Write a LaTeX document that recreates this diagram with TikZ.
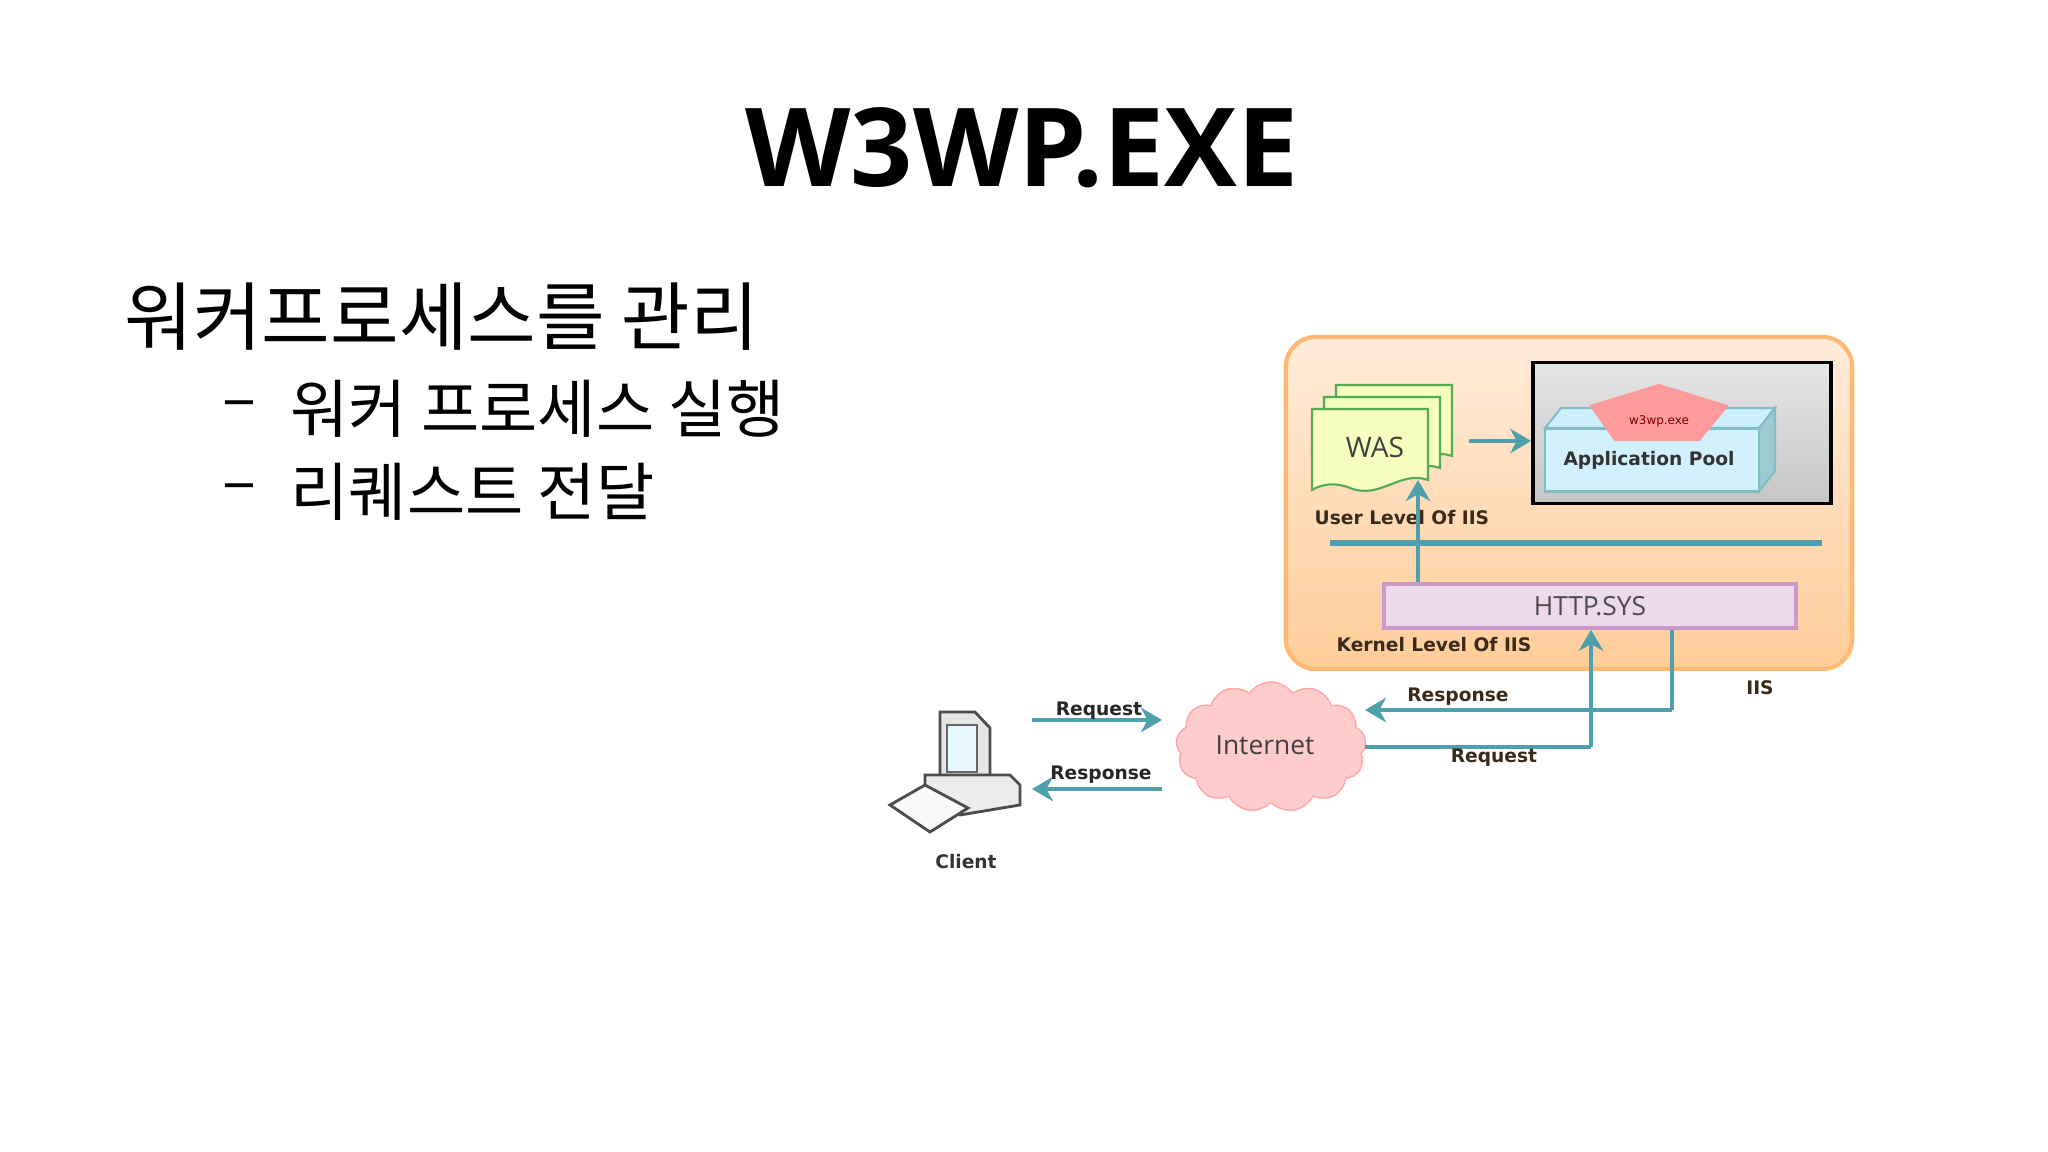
\documentclass[tikz,border=0pt]{standalone}
\usepackage{fontspec}
\setmainfont{Open Sans}
\newfontfamily\cjk{Noto Sans CJK KR}
\newfontfamily\verd{DejaVu Sans}
\usetikzlibrary{shapes.symbols,arrows.meta}
\definecolor{teal1}{HTML}{4F9FAD}
\definecolor{brownt}{HTML}{3A2A1A}
\tikzset{
  lbl/.style={font=\verd\bfseries\fontsize{5.3}{6}\selectfont, text=brownt, inner sep=0},
  tarrow/.style={draw=teal1, line width=1.3pt, -{Stealth[length=6pt,width=7pt]}},
  tline/.style={draw=teal1, line width=1.3pt},
}
\begin{document}
\begin{tikzpicture}[x=0.01cm,y=-0.01cm]
\useasboundingbox (0,0) rectangle (2048,1152);
\fill[white] (0,0) rectangle (2048,1152);
% text
\node (title) at (1022,148) {\fontsize{31}{34}\selectfont\bfseries W3WP.EXE};
\node[anchor=west,inner sep=0] (l1) at (124,317) {\cjk\fontsize{21.2}{24}\selectfont 워커프로세스를 관리};
\node[anchor=west,inner sep=0] (d1) at (222,411) {\cjk\fontsize{18}{22}\selectfont –};
\node[anchor=west,inner sep=0] (l2) at (290,409) {\cjk\fontsize{18}{22}\selectfont 워커 프로세스 실행};
\node[anchor=west,inner sep=0] (d2) at (222,494) {\cjk\fontsize{18}{22}\selectfont –};
\node[anchor=west,inner sep=0] (l3) at (290,492) {\cjk\fontsize{18}{22}\selectfont 리퀘스트 전달};
% IIS box
\node[draw=orange!55, line width=1.2pt, rounded corners=0.3cm, top color=orange!15, bottom color=orange!40, minimum width=5.66cm, minimum height=3.32cm, inner sep=0] (iis) at (1569,503) {};
\node[draw=black, line width=1pt, top color=gray!20, bottom color=gray!45, minimum width=2.98cm, minimum height=1.41cm, inner sep=0] (gray) at (1682,433) {};
% app pool 3D
\fill[cyan!20!white, draw=teal1!70, line width=0.6pt] (1545,428) -- (1561,408) -- (1775,408) -- (1759,428) -- cycle;
\fill[teal1!55, draw=teal1!70, line width=0.6pt] (1759,428) -- (1775,408) -- (1775,471) -- (1759,491) -- cycle;
\node[draw=teal1!70, fill=cyan!18!white, line width=0.6pt, minimum width=2.14cm, minimum height=0.63cm, inner sep=0] (pool) at (1652,460) {};
\node[lbl, text=black!80] (pooltxt) at (1649,460) {Application Pool};
\fill[red!25!pink!90, draw=red!40, line width=0.6pt] (1659,385) -- (1727,406) -- (1699,440) -- (1615,440) -- (1591,406) -- cycle;
\node[inner sep=0, font=\verd\fontsize{3.4}{4}\selectfont, text=red!50!black] (w3wp) at (1659,421) {w3wp.exe};
% WAS pages
\foreach \o in {24,12,0}{
  \fill[green!12!yellow!25!white, draw=green!35!gray, line width=0.6pt]
    (1312+\o,409-\o) -- (1428+\o,409-\o) -- (1428+\o,480-\o) .. controls (1400+\o,470-\o) and (1380+\o,500-\o) .. (1350+\o,488-\o) .. controls (1335+\o,482-\o) and (1322+\o,484-\o) .. (1312+\o,490-\o) -- cycle;
}
\node[inner sep=0, font=\fontsize{8}{9}\selectfont, text=black!75] (was) at (1375,447) {WAS};
\draw[tarrow] (1469,441) -- (gray.west|-0,441);
\node[lbl, anchor=west] (ul) at (1314,518) {User Level Of IIS};
\draw[draw=teal1, line width=0.065cm] (1330,543) -- (1822,543);
% HTTP.SYS
\node[draw=violet!40, fill=violet!15, line width=1pt, minimum width=4.12cm, minimum height=0.44cm, inner sep=0] (http) at (1590,606) {};
\node[inner sep=0, font=\fontsize{7.5}{9}\selectfont, text=black!70] (httptxt) at (1590,606) {HTTP.SYS};
\draw[tarrow] (http.north-|1418,0) -- (1418,480);
\node[lbl, anchor=west] (kl) at (1336,645) {Kernel Level Of IIS};
\node[lbl] (iistxt) at (1760,688) {IIS};
% cloud
\node[cloud, cloud puffs=13, cloud puff arc=110, aspect=1.6, draw=red!35, fill=red!20, minimum width=1.9cm, minimum height=1.3cm, inner sep=0] (cloud) at (1271,747) {};
\node[inner sep=0, font=\fontsize{7.5}{9}\selectfont, text=black!75] (inttxt) at (1265,745) {Internet};
\coordinate (c1) at (1672,710);
\coordinate (c2) at (1591,747);
\draw[tline] (http.south-|1672,0) -- (c1);
\draw[tarrow] (c1) -- (1365,710);
\draw[tline] (1365,747) -- (c2);
\draw[tarrow] (c2) -- (http.south-|1591,0);
\node[lbl] (resp2) at (1458,697) {Response};
\node[lbl] (req2) at (1494,758) {Request};
% client
\fill[gray!20, draw=black!70, line width=0.8pt] (940,712) -- (975,712) -- (990,728) -- (990,790) -- (940,790) -- cycle;
\fill[cyan!10, draw=black!60, line width=0.6pt] (947,725) rectangle (977,772);
\fill[gray!15, draw=black!70, line width=0.8pt] (925,775) -- (1010,775) -- (1020,785) -- (1020,805) -- (960,815) -- (925,800) -- cycle;
\fill[gray!5, draw=black!70, line width=0.8pt] (890,805) -- (925,785) -- (968,808) -- (930,832) -- cycle;
\node[lbl, text=black!80] (client) at (966,862) {Client};
\draw[tarrow] (1032,720) -- (1162,720);
\draw[tarrow] (1162,789) -- (1032,789);
\node[lbl, text=black!85] (req1) at (1099,711) {Request};
\node[lbl, text=black!85] (resp1) at (1101,775) {Response};
\end{tikzpicture}
\end{document}
